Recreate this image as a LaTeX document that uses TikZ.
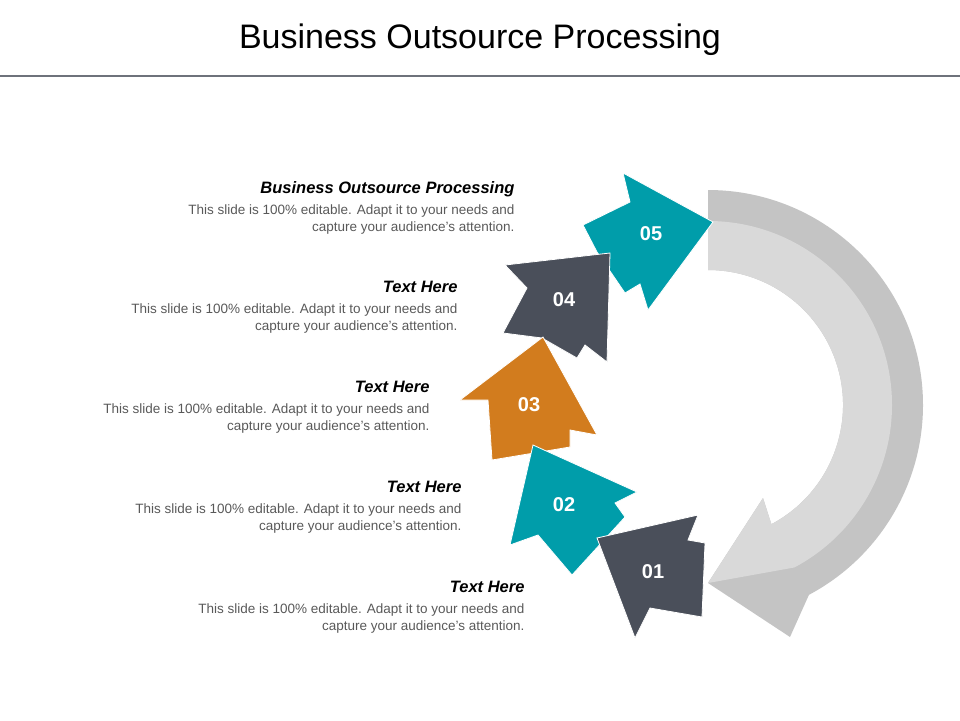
\documentclass[tikz,border=0pt]{standalone}
\usepackage{fontspec}
\setmainfont{Liberation Sans}
\usetikzlibrary{calc}
\begin{document}
\begin{tikzpicture}[x=1pt,y=-1pt,
  arr/.style={draw=white,line width=0.8pt,line join=miter},
  num/.style={text=white,font=\bfseries\fontsize{20}{22}\selectfont},
  head/.style={anchor=base east,font=\bfseries\itshape\fontsize{16.5}{18}\selectfont,text=black},
  body/.style={anchor=north east,align=right,font=\fontsize{13.5}{17}\selectfont,text=txtgrey}]
\definecolor{teal1}{RGB}{0,157,170}
\definecolor{dark1}{RGB}{74,79,90}
\definecolor{orange1}{RGB}{210,124,30}
\definecolor{greyA}{RGB}{196,196,196}
\definecolor{greyB}{RGB}{217,217,217}
\definecolor{txtgrey}{RGB}{89,89,89}
\useasboundingbox (0,0) rectangle (960,720);
\node[font=\fontsize{34}{38}\selectfont] (title) at (480,40) {Business Outsource Processing};
\draw[line width=2.5pt,color=dark1!80] (0,76) -- (960,76);
% big grey arrow
\coordinate (c) at (708,405);
\fill[greyA] ($(c)+(-90:215)$) arc[start angle=-90,end angle=62,radius=215] -- (790,637) -- (708,583) -- (763,498) -- ($(c)+(62:135)$) arc[start angle=62,end angle=-90,radius=135] -- cycle;
\fill[greyB] ($(c)+(-90:184)$) arc[start angle=-90,end angle=62,radius=184] -- (708,583) -- (763,498) -- ($(c)+(62:135)$) arc[start angle=62,end angle=-90,radius=135] -- cycle;
% small arrows
\filldraw[arr,fill=teal1] (623,173) -- (713,222) -- (648,310) -- (640,284) -- (625,293) -- (597,252) -- (583,225) -- (630,202) -- cycle;
\filldraw[arr,fill=dark1] (505,265) -- (610,253) -- (607,362) -- (585,345) -- (577,358) -- (542,338) -- (503,333) -- (527,288) -- cycle;
\filldraw[arr,fill=orange1] (543,337) -- (597,435) -- (570,430) -- (570,447) -- (492,460) -- (488,400) -- (460,400) -- cycle;
\filldraw[arr,fill=teal1] (533,445) -- (637,492) -- (615,503) -- (625,517) -- (572,575) -- (538,535) -- (510,545) -- cycle;
\filldraw[arr,fill=dark1] (597,538) -- (698,515) -- (688,540) -- (705,543) -- (702,617) -- (650,608) -- (635,638) -- cycle;
\node[num] (n5) at (651,234) {05};
\node[num] (n4) at (564,300) {04};
\node[num] (n3) at (529,405) {03};
\node[num] (n2) at (564,505) {02};
\node[num] (n1) at (653,572) {01};
% texts
\node[head] (h5) at (518,193) {Business Outsource Processing};
\node[body] (b5) at (518,201) {This slide is 100\% editable. Adapt it to your needs and\\capture your audience's attention.};
\node[head] (h4) at (461,292) {Text Here};
\node[body] (b4) at (461,300) {This slide is 100\% editable. Adapt it to your needs and\\capture your audience's attention.};
\node[head] (h3) at (433,392) {Text Here};
\node[body] (b3) at (433,400) {This slide is 100\% editable. Adapt it to your needs and\\capture your audience's attention.};
\node[head] (h2) at (465,492) {Text Here};
\node[body] (b2) at (465,500) {This slide is 100\% editable. Adapt it to your needs and\\capture your audience's attention.};
\node[head] (h1) at (528,592) {Text Here};
\node[body] (b1) at (528,600) {This slide is 100\% editable. Adapt it to your needs and\\capture your audience's attention.};
\end{tikzpicture}
\end{document}
